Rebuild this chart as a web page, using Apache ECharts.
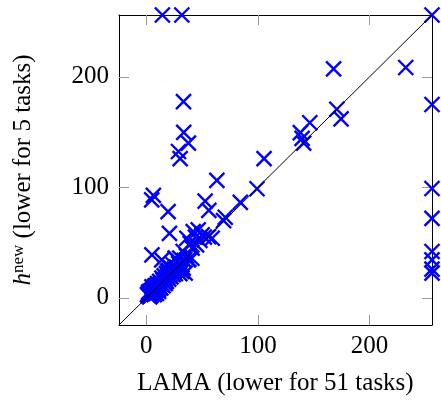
<!DOCTYPE html>
<html>
<head>
<meta charset="utf-8">
<script src="https://cdn.jsdelivr.net/npm/echarts@6/dist/echarts.min.js"></script>
<style>html,body{margin:0;padding:0;background:#fff;}#c{width:441px;height:401px;}</style>
</head>
<body>
<div id="c"></div>
<script>
const axisMin = -24.5;
const axisMax = 256;
const tickValues = [0, 100, 200];
const xLabel = 'LAMA (lower for 51 tasks)';
const yLabelMain = ' (lower for 5 tasks)';

// points: [LAMA, h_new]
const clusterPoints = [
  [2,2],[3,4],[4,3],[5,5],[3,6],[6,4],[5,7],[7,6],[6,8],[8,5],[8,8],[9,7],[7,10],[10,9],
  [9,11],[11,8],[11,12],[12,10],[10,13],[13,13],[12,15],[14,12],[15,16],[14,18],[16,14],
  [17,17],[16,20],[18,15],[19,19],[18,22],[20,17],[21,21],[20,25],[22,19],[23,23],[22,27],
  [24,21],[25,26],[24,30],[26,22],[27,28],[28,25],[29,31],[30,22],[32,30],[33,27],[34,34],
  [30,36],[36,38],[38,35],[26,36],[4,2],[2,5],[6,6],[9,4],[5,10],[13,9],[15,11],[17,13],[19,24],
  [1,3],[3,1],[4,6],[7,3],[8,11],[11,6]
];
const midPoints = [
  [5,39],[13.8,34.4],[25.8,35.9],[37.7,34.4],[40.8,35.9],[31.8,24],[34.8,22.5],[31.8,27],
  [33,42],[36.3,54],[39.3,49.4],[41,45],[45,48],[42,60],[46.5,61.5],[50,57],[59,54],
  [44,55],[48,52],[52,55],[55.8,55.4],[20.7,58.4],[19.5,78],[6.3,92.8],[4.8,88.8],
  [52.7,87.5],[56,79.3],[63.2,106.3],[84.2,86.5],[70.7,73],[69.2,70],[99.2,98.8],[105.5,126]
];
const upperPoints = [
  [33.3,177.6],[33.5,149.8],[37.7,140],[28.8,132.5],[30.3,126],
  [138,149.5],[139.6,144.4],[141,140],[146.5,158.5],[167.8,207.3],[170.7,170.7],[174.5,162],
  [232.5,208.5],[14.4,256],[31.8,256]
];
const edgePoints = [
  [256,256],[256,175],[256,99],[256,72],[256,42],[256,34.4],[256,26],[256,22.5]
];

const allPoints = clusterPoints.concat(midPoints, upperPoints, edgePoints);
const diagonal = [[axisMin, axisMin], [axisMax, axisMax]];

const chart = echarts.init(document.getElementById('c'), null, {renderer: 'canvas'});
const font = 'Liberation Serif';
const tickStyle = {show: true, inside: true, length: 10, lineStyle: {color: '#999', width: 1}, customValues: tickValues};
const lineStyle = {show: true, onZero: false, lineStyle: {color: '#000', width: 1}};

chart.setOption({
  animation: false,
  backgroundColor: '#fff',
  grid: {left: 119, top: 15, width: 313, height: 312, containLabel: false},
  xAxis: [
    {type: 'value', min: axisMin, max: axisMax, position: 'bottom',
     axisLine: lineStyle, axisTick: tickStyle, splitLine: {show: false},
     axisLabel: {customValues: tickValues, fontFamily: font, fontSize: 25, color: '#000', margin: 9},
     name: xLabel, nameLocation: 'middle', nameGap: 46,
     nameTextStyle: {fontFamily: font, fontSize: 25, color: '#000'}},
    {type: 'value', min: axisMin, max: axisMax, position: 'top',
     axisLine: lineStyle, axisTick: tickStyle, splitLine: {show: false},
     axisLabel: {show: false}}
  ],
  yAxis: [
    {type: 'value', min: axisMin, max: axisMax, position: 'left',
     axisLine: lineStyle, axisTick: tickStyle, splitLine: {show: false},
     axisLabel: {customValues: tickValues, fontFamily: font, fontSize: 25, color: '#000', margin: 10},
     name: '{h|h}{sup|new}{t|' + yLabelMain + '}', nameLocation: 'middle', nameGap: 82,
     nameTextStyle: {fontFamily: font, fontSize: 25, color: '#000',
       rich: {
         h: {fontFamily: font, fontSize: 25, fontStyle: 'italic', color: '#000'},
         sup: {fontFamily: font, fontSize: 17, color: '#000', verticalAlign: 'top', padding: [0,0,10,0]},
         t: {fontFamily: font, fontSize: 25, color: '#000'}
       }}},
    {type: 'value', min: axisMin, max: axisMax, position: 'right',
     axisLine: lineStyle, axisTick: tickStyle, splitLine: {show: false},
     axisLabel: {show: false}}
  ],
  series: [
    {type: 'scatter', data: allPoints, clip: false,
     symbol: 'path://M0,0 L10,10 M10,0 L0,10', symbolSize: 15,
     itemStyle: {color: 'rgba(0,0,0,0)', borderColor: '#0000ff', borderWidth: 2.4, opacity: 1},
     emphasis: {disabled: true}, z: 2},
    {type: 'line', data: diagonal, showSymbol: false, symbol: 'none',
     lineStyle: {color: '#000', width: 1}, z: 3, silent: true}
  ]
});
</script>
</body>
</html>
